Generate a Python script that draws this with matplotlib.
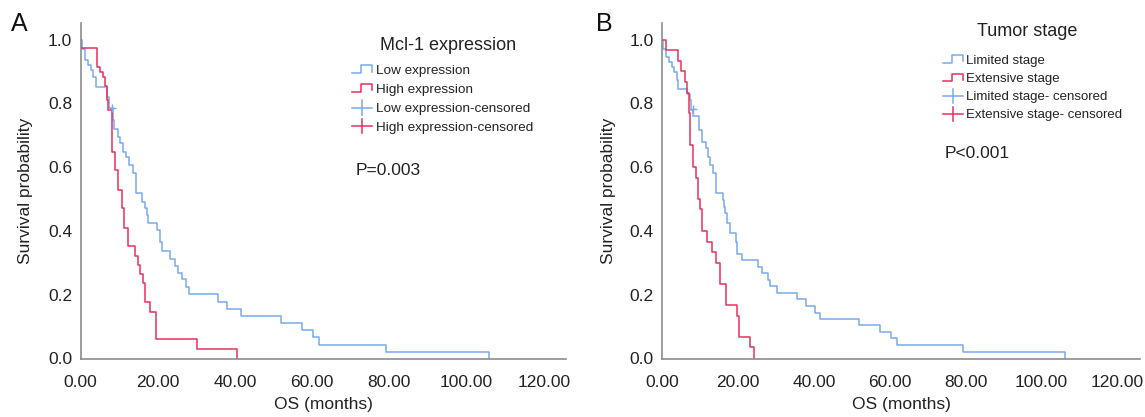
import matplotlib
matplotlib.use("Agg")
import matplotlib.pyplot as plt
import numpy as np
from matplotlib.legend_handler import HandlerBase
from matplotlib.lines import Line2D

plt.rcParams['font.family'] = ['Liberation Sans', 'DejaVu Sans']

# ---- Panel A: Mcl-1 expression ----
a_low_t = [0, 0.3, 1.2, 2.0, 2.7, 3.3, 4.0, 6.9, 7.5, 8.3, 8.7, 9.8, 10.2, 10.9, 11.8, 12.6,
           13.7, 14.4, 15.9, 16.7, 17.3, 17.6, 19.7, 20.6, 21.0, 23.2, 24.5, 25.3, 26.2, 27.3,
           28.2, 35.5, 38.0, 41.5, 51.9, 57.5, 60.2, 61.9, 79.1, 105.9]
a_low_s = [1.0, 0.969, 0.936, 0.920, 0.904, 0.883, 0.850, 0.821, 0.784, 0.748, 0.718, 0.695,
           0.675, 0.648, 0.633, 0.607, 0.582, 0.518, 0.492, 0.471, 0.450, 0.426, 0.403, 0.366,
           0.338, 0.312, 0.290, 0.267, 0.248, 0.223, 0.202, 0.178, 0.154, 0.133, 0.112, 0.089,
           0.066, 0.043, 0.021, 0.0]
a_high_t = [0, 0.1, 4.2, 5.1, 5.9, 6.3, 6.8, 7.2, 8.1, 8.9, 9.8, 10.7, 11.3, 12.2, 14.1, 15.0,
            15.4, 16.1, 16.7, 18.0, 19.6, 30.3, 40.5]
a_high_s = [1.0, 0.972, 0.915, 0.899, 0.883, 0.854, 0.810, 0.779, 0.648, 0.591, 0.528, 0.471,
            0.408, 0.353, 0.321, 0.293, 0.265, 0.236, 0.178, 0.147, 0.060, 0.029, 0.0]
a_cens_t = [8.1]
a_cens_s = [0.784]

# ---- Panel B: Tumor stage ----
b_lim_t = [0, 0.3, 1.0, 1.8, 2.5, 3.2, 3.8, 4.2, 6.4, 7.3, 7.6, 8.2, 9.7, 10.4, 11.5, 12.1,
           12.7, 13.3, 14.3, 15.9, 16.2, 16.5, 17.1, 17.8, 19.4, 19.7, 20.9, 25.3, 26.2, 27.9,
           28.3, 30.3, 35.5, 38.0, 40.4, 41.7, 51.8, 57.5, 60.4, 61.8, 79.4, 106.2]
b_lim_s = [1.0, 0.969, 0.944, 0.930, 0.915, 0.899, 0.873, 0.844, 0.829, 0.810, 0.779, 0.760,
           0.716, 0.680, 0.659, 0.633, 0.607, 0.581, 0.518, 0.497, 0.476, 0.455, 0.426, 0.392,
           0.366, 0.328, 0.309, 0.288, 0.267, 0.246, 0.227, 0.206, 0.186, 0.165, 0.144, 0.123,
           0.104, 0.083, 0.063, 0.041, 0.020, 0.0]
b_ext_t = [0, 0.9, 4.1, 4.9, 6.0, 6.4, 7.1, 7.3, 8.2, 8.9, 9.5, 9.9, 10.4, 11.7, 13.0, 14.3,
           15.2, 16.8, 19.6, 20.3, 23.1, 24.2]
b_ext_s = [1.0, 0.967, 0.933, 0.901, 0.868, 0.833, 0.769, 0.669, 0.601, 0.565, 0.499, 0.468,
           0.401, 0.366, 0.335, 0.300, 0.234, 0.168, 0.133, 0.068, 0.035, 0.0]
b_cens_t = [8.0]
b_cens_s = [0.781]

blue = '#78aaee'
red = '#e6305e'
grey = '#8c8c8c'
ink = '#222222'


class StepHandler(HandlerBase):
    def create_artists(self, legend, orig_handle, xdescent, ydescent, width, height, fontsize, trans):
        x = np.array([0, 0.45, 0.45, 1.0, 1.0]) * width - xdescent
        y = np.array([0.1, 0.1, 0.95, 0.95, 0.3]) * height - ydescent
        ln = Line2D(x, y, color=orig_handle.get_color(), lw=1.1)
        ln.set_transform(trans)
        return [ln]


class CensorHandler(HandlerBase):
    def create_artists(self, legend, orig_handle, xdescent, ydescent, width, height, fontsize, trans):
        h = Line2D([-xdescent, width - xdescent], [0.5 * height - ydescent] * 2,
                   color=orig_handle.get_color(), lw=1.1)
        v = Line2D([0.5 * width - xdescent] * 2, [-0.25 * height - ydescent, 1.25 * height - ydescent],
                   color=orig_handle.get_color(), lw=1.1)
        h.set_transform(trans)
        v.set_transform(trans)
        return [h, v]


class StepKey(Line2D):
    pass


class CensKey(Line2D):
    pass


fig = plt.figure(figsize=(11.45, 4.17), dpi=100)
W, H = 1145, 417


def panel(left_px, right_px, x_max, data, letter, letter_x, title, title_xy, labels,
          leg_xy, leg_fs, leg_sp, ptext, ptext_xy):
    ax = fig.add_axes([left_px / W, 1 - 358.5 / H, (right_px - left_px) / W, (358.5 - 22.7) / H])
    (t1, s1), (t2, s2), (ct, cs) = data
    ax.step(t1, s1, where='post', color=blue, lw=1.1)
    ax.step(t2, s2, where='post', color=red, lw=1.1)
    ax.plot(ct, cs, linestyle='none', marker='+', color=blue, markersize=6, markeredgewidth=1.0)
    ax.set_xlim(0, x_max)
    ax.set_ylim(0, 1.0527)
    ax.set_xticks(np.arange(0, 121, 20))
    ax.set_xticklabels(['%.2f' % v for v in np.arange(0, 121, 20)])
    ax.set_yticks(np.arange(0, 1.01, 0.2))
    ax.set_yticklabels(['%.1f' % v for v in np.arange(0, 1.01, 0.2)])
    ax.tick_params(axis='both', length=0, labelsize=12.5, colors=ink)
    ax.tick_params(axis='x', pad=12)
    ax.tick_params(axis='y', pad=6)
    for sp in ['top', 'right']:
        ax.spines[sp].set_visible(False)
    for sp in ['left', 'bottom']:
        ax.spines[sp].set_color(grey)
        ax.spines[sp].set_linewidth(1.2)
    ax.set_xlabel('OS (months)', fontsize=12.5, color=ink, labelpad=5)
    ax.set_ylabel('Survival probability', fontsize=12.5, color=ink)
    ax.yaxis.set_label_coords(-0.097, 0.5)
    ax.text(ptext_xy[0], ptext_xy[1], ptext, transform=ax.transAxes, fontsize=12.5,
            color=ink, va='center')
    fig.text(letter_x / W, 1 - 24 / H, letter, fontsize=18, va='center', color='#111111')
    fig.text(title_xy[0] / W, 1 - title_xy[1] / H, title, fontsize=13, color=ink,
             ha='center', va='center')

    keys = [StepKey([], [], color=blue), StepKey([], [], color=red),
            CensKey([], [], color=blue), CensKey([], [], color=red)]
    leg = ax.legend(keys, labels, loc='upper left',
                    bbox_to_anchor=(leg_xy[0] / W, 1 - leg_xy[1] / H),
                    bbox_transform=fig.transFigure, frameon=False, fontsize=leg_fs,
                    handlelength=1.5, handletextpad=0.25,
                    labelspacing=leg_sp, borderpad=0, borderaxespad=0,
                    handler_map={StepKey: StepHandler(), CensKey: CensorHandler()})
    for t in leg.get_texts():
        t.set_color(ink)
    return ax


panel(80.5, 566, (566 - 80.5) / 3.86,
      [(a_low_t, a_low_s), (a_high_t, a_high_s), (a_cens_t, a_cens_s)],
      'A', 11, 'Mcl-1 expression', (448, 45),
      ['Low expression', 'High expression', 'Low expression-censored', 'High expression-censored'],
      (352, 65), 9.7, 0.48,
      'P=0.003', (0.567, 0.56))

panel(662.3, 1140, (1140 - 662.3) / 3.79,
      [(b_lim_t, b_lim_s), (b_ext_t, b_ext_s), (b_cens_t, b_cens_s)],
      'B', 596, 'Tumor stage', (1027, 32),
      ['Limited stage', 'Extensive stage', 'Limited stage- censored', 'Extensive stage- censored'],
      (943, 55), 9.5, 0.44,
      'P<0.001', (0.59, 0.61))

fig.savefig('out.png', dpi=100)
